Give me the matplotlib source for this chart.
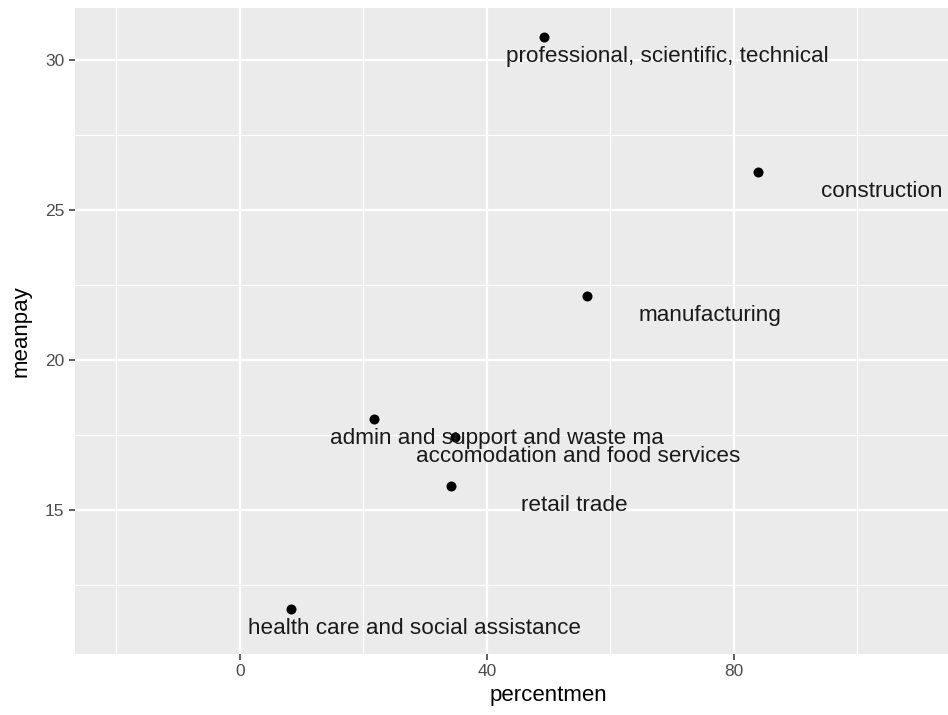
import matplotlib
matplotlib.use("Agg")
import matplotlib.pyplot as plt
from matplotlib.ticker import MultipleLocator, FixedLocator

plt.rcParams["font.family"] = ["Liberation Sans", "DejaVu Sans"]

# industry data
industry = [
    "professional, scientific, technical",
    "construction",
    "manufacturing",
    "admin and support and waste ma",
    "accomodation and food services",
    "retail trade",
    "health care and social assistance",
]
percentmen = [49.2, 83.9, 56.2, 21.7, 34.8, 34.2, 8.3]
meanpay = [30.77, 26.27, 22.13, 18.03, 17.43, 15.80, 11.70]

# label nudge (data units)
nudge_x = 20
nudge_y = -0.83

x_ticks = [0, 40, 80]

fig = plt.figure(figsize=(9.48, 7.15), dpi=100)
# the panel runs past the right edge of the picture (the original was cropped)
ax = fig.add_axes([75 / 948, 61 / 715, 946 / 948, 646 / 715])

ax.set_facecolor("#EBEBEB")
for s in ax.spines.values():
    s.set_visible(False)

ax.set_xlim(-26.7, 126.5)
ax.set_ylim(10.2, 31.73)

ax.xaxis.set_major_locator(FixedLocator(x_ticks))
ax.xaxis.set_minor_locator(FixedLocator([-20, 20, 60, 100]))
ax.yaxis.set_major_locator(MultipleLocator(5))
ax.yaxis.set_minor_locator(MultipleLocator(2.5))

ax.grid(which="major", color="white", linewidth=1.6)
ax.grid(which="minor", color="white", linewidth=0.8)
ax.set_axisbelow(True)

ax.tick_params(which="major", length=4, width=1.1, color="#333333",
               labelcolor="#4D4D4D", labelsize=12.5, pad=3.5)
ax.tick_params(which="minor", length=0)

ax.scatter(percentmen, meanpay, s=52, color="black", zorder=3, linewidths=0)

for name, x, y in zip(industry, percentmen, meanpay):
    ax.text(x + nudge_x, y + nudge_y, name, ha="center", va="baseline",
            fontsize=16.2, color="#1A1A1A", zorder=4)

ax.set_xlabel("percentmen", fontsize=16, color="black", labelpad=4)
ax.set_ylabel("meanpay", fontsize=16, color="black", labelpad=10)

fig.savefig("out.png", dpi=100)
